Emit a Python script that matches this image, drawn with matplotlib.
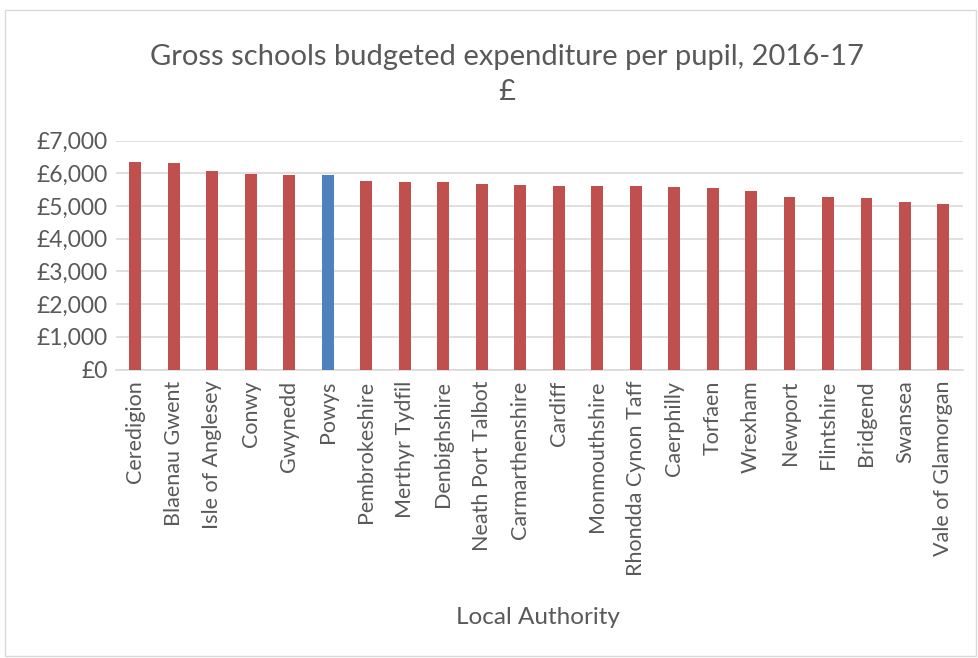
import numpy as np
import matplotlib as mpl
import matplotlib.pyplot as plt
from matplotlib.patches import Rectangle
from matplotlib.ticker import FuncFormatter, MultipleLocator

# Data
authorities = [
    "Ceredigion", "Blaenau Gwent", "Isle of Anglesey", "Conwy", "Gwynedd",
    "Powys", "Pembrokeshire", "Merthyr Tydfil", "Denbighshire",
    "Neath Port Talbot", "Carmarthenshire", "Cardiff", "Monmouthshire",
    "Rhondda Cynon Taff", "Caerphilly", "Torfaen", "Wrexham", "Newport",
    "Flintshire", "Bridgend", "Swansea", "Vale of Glamorgan",
]
spend_per_pupil = [
    6345, 6324, 6080, 5969, 5958, 5955, 5765, 5734, 5723, 5682, 5642,
    5612, 5610, 5602, 5591, 5561, 5459, 5284, 5264, 5254, 5131, 5061,
]
highlight = "Powys"

# plot preferences
mpl.rcParams["font.family"] = ["Lato", "DejaVu Sans"]
text_col = "#595959"
red = "#C0504D"
blue = "#4F81BD"

W, H = 979, 658
fig = plt.figure(figsize=(W / 100, H / 100), dpi=100)
ax = fig.add_axes([116 / W, 1 - 369.5 / H, (962.7 - 116) / W, (369.5 - 140.7) / H])

x = np.arange(len(authorities))
colors = [blue if a == highlight else red for a in authorities]
ax.bar(x, spend_per_pupil, width=0.31, color=colors, zorder=3)

ax.set_xlim(-0.5, len(authorities) - 0.5)
ax.set_ylim(0, 7000)
ax.yaxis.set_major_locator(MultipleLocator(1000))
ax.yaxis.set_major_formatter(FuncFormatter(lambda v, p: "£{:,.0f}".format(v)))
ax.grid(axis="y", color="#D9D9D9", linewidth=1.2, zorder=0)

ax.set_xticks(x)
ax.set_xticklabels(authorities, rotation=90, fontsize=15.5, color=text_col)
ax.tick_params(axis="y", labelsize=16.5, labelcolor=text_col, length=0, pad=6)
ax.tick_params(axis="x", length=0, pad=8)

for s in ["top", "right", "left"]:
    ax.spines[s].set_visible(False)
ax.spines["bottom"].set_color("#D9D9D9")
ax.spines["bottom"].set_linewidth(1.2)

fig.text(0.518, 1 - 57 / H, "Gross schools budgeted expenditure per pupil, 2016-17",
         ha="center", va="center", fontsize=21, color=text_col)
fig.text(0.518, 1 - 92 / H, "£", ha="center", va="center", fontsize=21, color=text_col)
fig.text(538 / W, 1 - 617 / H, "Local Authority", ha="center", va="center",
         fontsize=17.5, color=text_col)

# outer chart border
fig.patches.append(Rectangle((5 / W, 0.003), 1 - 8 / W, 1 - 12 / H,
                             transform=fig.transFigure, fill=False,
                             edgecolor="#D9D9D9", linewidth=1))

fig.savefig("out.png", dpi=100)
